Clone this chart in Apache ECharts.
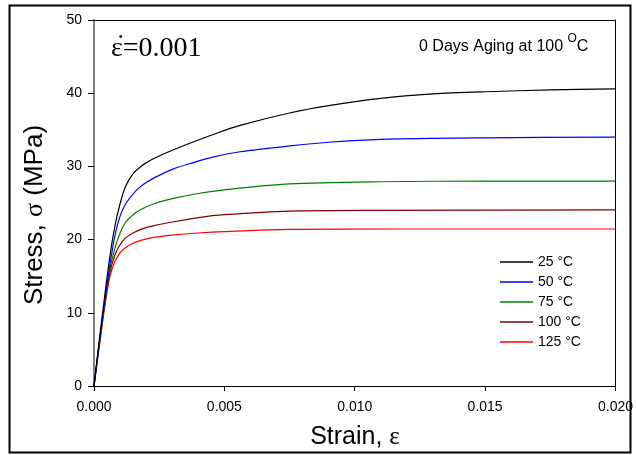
<!DOCTYPE html>
<html><head><meta charset="utf-8">
<script src="https://cdn.jsdelivr.net/npm/echarts@6/dist/echarts.min.js"></script>
<style>html,body{margin:0;padding:0;background:#fff}#c{width:636px;height:455px}</style>
</head><body><div id="c"></div>
<script>
const seriesNames = ['25 °C', '50 °C', '75 °C', '100 °C', '125 °C'];
const seriesColors = ['#000000', '#0000ff', '#008000', '#800000', '#ff0000'];
const xTicks = [0, 0.005, 0.010, 0.015, 0.020];
const yTicks = [0, 10, 20, 30, 40, 50];

const s25 = [[0,0],[0.0002,6.2],[0.0004,12.0],[0.0006,17.5],[0.0008,21.8],[0.001,24.9],[0.0012,27.2],[0.0015,29.0],[0.0018,30.0],[0.0022,30.9],[0.0028,31.9],[0.0037,33.2],[0.0046,34.4],[0.0056,35.6],[0.0075,37.3],[0.009,38.3],[0.011,39.3],[0.013,39.9],[0.015,40.2],[0.0175,40.45],[0.02,40.6]];
const s50 = [[0,0],[0.0002,5.8],[0.0004,11.2],[0.0006,16.3],[0.0008,20.5],[0.001,23.2],[0.0012,24.8],[0.0014,25.8],[0.0017,27.0],[0.002,27.8],[0.0024,28.6],[0.003,29.6],[0.0037,30.4],[0.0046,31.3],[0.0056,32.0],[0.0075,32.8],[0.009,33.3],[0.011,33.7],[0.015,33.9],[0.02,34.0]];
const s75 = [[0,0],[0.0002,5.7],[0.0004,11.0],[0.0006,15.8],[0.0008,18.8],[0.001,20.9],[0.0012,22.3],[0.0015,23.4],[0.0018,24.1],[0.0023,24.9],[0.003,25.6],[0.004,26.3],[0.005,26.8],[0.0075,27.6],[0.011,27.9],[0.015,28.0],[0.02,28.0]];
const s100 = [[0,0],[0.0002,5.7],[0.0004,11.0],[0.0006,15.3],[0.0008,17.9],[0.001,19.3],[0.0012,20.2],[0.0015,20.9],[0.0018,21.4],[0.0023,21.9],[0.003,22.4],[0.004,23.0],[0.005,23.4],[0.0075,23.9],[0.011,24.0],[0.02,24.05]];
const s125 = [[0,0],[0.0002,5.3],[0.0004,10.5],[0.0006,14.8],[0.0008,17.0],[0.001,18.2],[0.0012,18.9],[0.0015,19.5],[0.0018,19.9],[0.0023,20.3],[0.003,20.6],[0.004,20.9],[0.005,21.1],[0.0075,21.4],[0.012,21.45],[0.02,21.45]];
const allSeries = [s25, s50, s75, s100, s125];

const chart = echarts.init(document.getElementById('c'), null, {renderer: 'canvas'});
const font = 'Liberation Sans, Arial, sans-serif';
const serif = 'Liberation Serif, Times New Roman, serif';

chart.setOption({
  animation: false,
  backgroundColor: '#fff',
  grid: {left: 94, top: 20, right: 19, bottom: 69, containLabel: false},
  xAxis: [{
    type: 'value', min: 0, max: 0.02, interval: 0.005,
    axisLine: {show: true, lineStyle: {color: '#000', width: 1}},
    axisTick: {show: true, length: 5, lineStyle: {color: '#000'}},
    axisLabel: {color: '#000', fontFamily: font, fontSize: 14, margin: 14, formatter: v => v.toFixed(3)},
    splitLine: {show: false}
  }, {
    type: 'value', min: 0, max: 0.02, position: 'top',
    axisLine: {show: true, onZero: false, lineStyle: {color: '#000', width: 1}},
    axisTick: {show: false}, axisLabel: {show: false}, splitLine: {show: false}
  }],
  yAxis: [{
    type: 'value', min: 0, max: 50, interval: 10,
    axisLine: {show: true, lineStyle: {color: '#808080', width: 2}},
    axisTick: {show: true, length: 6, lineStyle: {color: '#000'}},
    axisLabel: {color: '#000', fontFamily: font, fontSize: 14, margin: 12},
    splitLine: {show: false}
  }, {
    type: 'value', min: 0, max: 50, position: 'right',
    axisLine: {show: true, onZero: false, lineStyle: {color: '#000', width: 1}},
    axisTick: {show: false}, axisLabel: {show: false}, splitLine: {show: false}
  }],
  legend: {
    orient: 'vertical', left: 495, top: 249, itemWidth: 33, itemHeight: 1.5, itemGap: 4,
    icon: 'rect',
    data: seriesNames,
    textStyle: {fontFamily: font, fontSize: 14, color: '#000', lineHeight: 16, padding: [0,0,0,0]}
  },
  series: allSeries.map((d, i) => ({
    name: seriesNames[i], type: 'line', data: d, showSymbol: false, symbol: 'none',
    smooth: 0.3,
    lineStyle: {color: seriesColors[i], width: 1.2}, itemStyle: {color: seriesColors[i]},
    z: 10 - i
  })),
  graphic: [
    {type: 'rect', shape: {x: 9.5, y: 5.5, width: 621, height: 447}, style: {fill: 'none', stroke: '#000', lineWidth: 2}, silent: true},
    {type: 'text', left: 111, top: 35, style: {text: 'ε=0.001', font: '28px ' + serif, fill: '#000'}},
    {type: 'text', left: 116, top: 32, style: {text: '˙', font: '28px ' + serif, fill: '#000'}},
    {type: 'text', left: 419, top: 33, style: {
      text: '{a|0 Days Aging at 100 }{s|O}{a|C}',
      rich: {a: {fontFamily: font, fontSize: 16, fill: '#000', verticalAlign: 'bottom'}, s: {fontFamily: font, fontSize: 12, fill: '#000', verticalAlign: 'top', padding: [0,0,10,0]}}
    }},
    {type: 'text', x: 355, y: 437, style: {
      text: '{a|Strain, }{b|ε}', align: 'center', verticalAlign: 'middle',
      rich: {a: {fontFamily: font, fontSize: 25, fill: '#000'}, b: {fontFamily: serif, fontSize: 25, fill: '#000'}}
    }},
    {type: 'text', x: 35, y: 215, rotation: Math.PI / 2, style: {
      text: '{a|Stress, }{b|σ}{a| (MPa)}', align: 'center', verticalAlign: 'middle',
      rich: {a: {fontFamily: font, fontSize: 26, fill: '#000'}, b: {fontFamily: serif, fontSize: 26, fill: '#000'}}
    }}
  ]
});
</script></body></html>
